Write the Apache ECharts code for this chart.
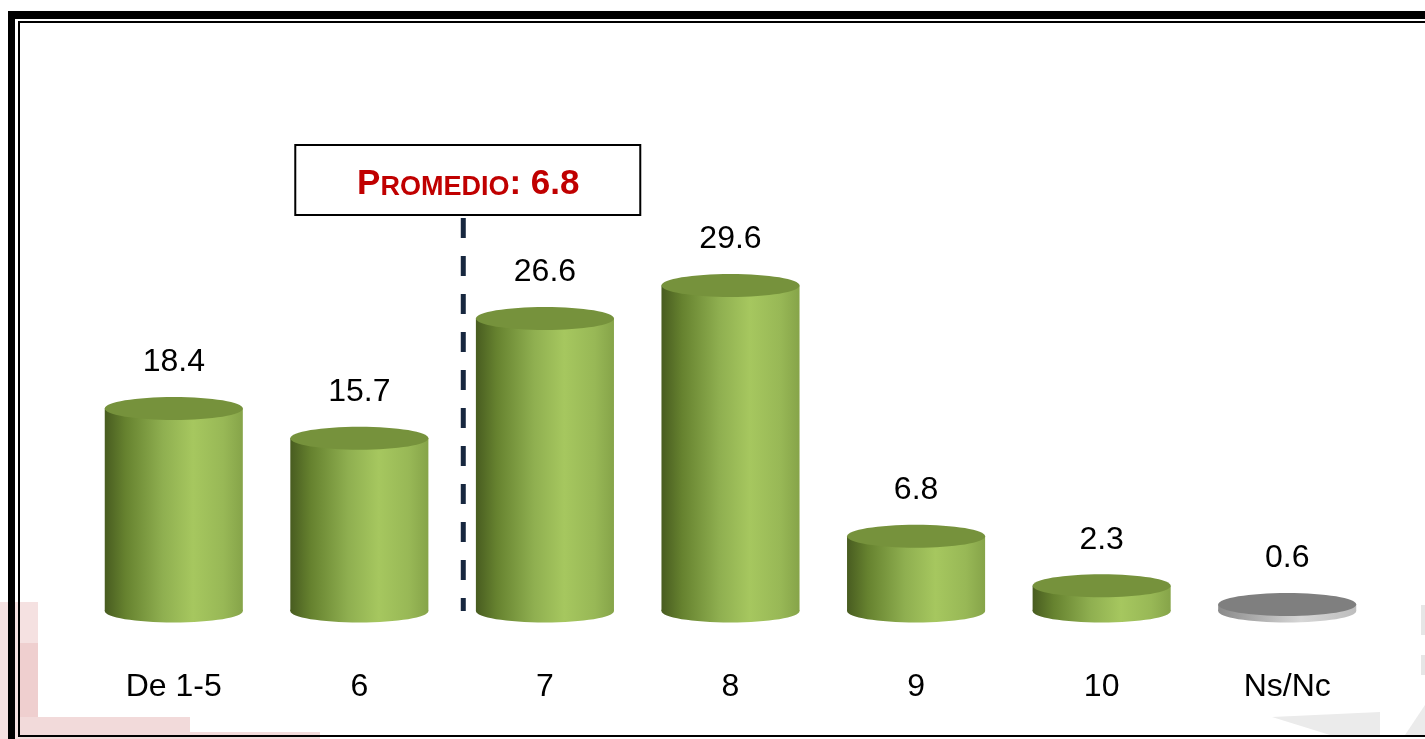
<!DOCTYPE html>
<html>
<head>
<meta charset="UTF-8">
<title>Promedio</title>
<script src="https://cdn.jsdelivr.net/npm/echarts@6/dist/echarts.min.js"></script>
<style>html,body{margin:0;padding:0;background:#fff;}</style>
</head>
<body>
<div id="main" style="width:1425px;height:739px;"></div>
<script>
// datos
var categorias = ['De 1-5', '6', '7', '8', '9', '10', 'Ns/Nc'];
var valores = [18.4, 15.7, 26.6, 29.6, 6.8, 2.3, 0.6];
var promedio = 6.8;
var posPromedio = 1.56; // la linea punteada cae entre "6" y "7"

var fuente = '"Liberation Sans", Arial, sans-serif';

var verdeLado = new echarts.graphic.LinearGradient(0, 0, 1, 0, [
    {offset: 0, color: '#485C20'},
    {offset: 0.15, color: '#66822F'},
    {offset: 0.42, color: '#8FAF50'},
    {offset: 0.64, color: '#A6C75F'},
    {offset: 0.86, color: '#98B856'},
    {offset: 1, color: '#86A449'}
]);
var grisLado = new echarts.graphic.LinearGradient(0, 0, 1, 0, [
    {offset: 0, color: '#8A8A8A'},
    {offset: 0.6, color: '#D6D6D6'},
    {offset: 1, color: '#BDBDBD'}
]);

function cilindro(params, api) {
    var i = api.value(0);
    var v = api.value(1);
    var base = api.coord([i, 0]);
    var tope = api.coord([i, v]);
    var rx = api.size([1, 0])[0] * 0.372;
    var ry = 11.5;
    var gris = categorias[i] === 'Ns/Nc';
    return {
        type: 'group',
        children: [
            {type: 'ellipse', shape: {cx: base[0], cy: base[1], rx: rx, ry: ry},
             style: {fill: gris ? grisLado : verdeLado}},
            {type: 'rect', shape: {x: base[0] - rx, y: tope[1], width: rx * 2, height: base[1] - tope[1]},
             style: {fill: gris ? grisLado : verdeLado}},
            {type: 'ellipse', shape: {cx: tope[0], cy: tope[1], rx: rx, ry: ry},
             style: {fill: gris ? '#7F7F7F' : '#76923C'}},
            {type: 'text', x: tope[0], y: tope[1] - 46,
             style: {text: v.toFixed(1), font: '32px ' + fuente, fill: '#000',
                     align: 'center', verticalAlign: 'middle'}}
        ]
    };
}

var myChart = echarts.init(document.getElementById('main'));

myChart.setOption({
    animation: false,
    backgroundColor: '#fff',
    grid: {left: 81, right: 45, top: 226, bottom: 128},
    xAxis: {
        type: 'category',
        data: categorias,
        axisLine: {show: false},
        axisTick: {show: false},
        axisLabel: {
            interval: 0,
            margin: 60,
            fontSize: 32,
            fontFamily: fuente,
            color: '#000'
        }
    },
    yAxis: {
        type: 'value',
        min: 0,
        max: 35,
        show: false
    },
    series: [{
        type: 'custom',
        renderItem: cilindro,
        encode: {x: 0, y: 1},
        data: valores.map(function (v, i) { return [i, v]; }),
        z: 5
    }]
});

// linea del promedio y recuadro, ubicados con el eje
var pA = myChart.convertToPixel({gridIndex: 0}, [Math.floor(posPromedio), 0]);
var pB = myChart.convertToPixel({gridIndex: 0}, [Math.ceil(posPromedio), 0]);
var xLinea = pA[0] + (pB[0] - pA[0]) * (posPromedio - Math.floor(posPromedio));
var yBase = pA[1];

myChart.setOption({
    graphic: [
        // adornos de fondo
        {type: 'rect', z: 0, shape: {x: 0, y: 602, width: 38, height: 137}, style: {fill: '#F5E1E1'}},
        {type: 'rect', z: 0, shape: {x: 20, y: 643, width: 18, height: 74}, style: {fill: '#EFCFCF'}},
        {type: 'rect', z: 0, shape: {x: 20, y: 717, width: 170, height: 22}, style: {fill: '#F2DADA'}},
        {type: 'rect', z: 0, shape: {x: 190, y: 732, width: 130, height: 7}, style: {fill: '#F2DADA'}},
        {type: 'polygon', z: 0, shape: {points: [[1272, 717], [1380, 712], [1380, 735], [1330, 735]]}, style: {fill: '#EBEBEB'}},
        {type: 'polygon', z: 0, shape: {points: [[1405, 735], [1425, 705], [1425, 735]]}, style: {fill: '#EBEBEB'}},
        {type: 'rect', z: 0, shape: {x: 1421, y: 605, width: 4, height: 30}, style: {fill: '#E6E6E6'}},
        {type: 'rect', z: 0, shape: {x: 1421, y: 655, width: 4, height: 20}, style: {fill: '#E6E6E6'}},
        // marco
        {type: 'rect', z: 100, shape: {x: 8, y: 11, width: 1417, height: 8}, style: {fill: '#000'}},
        {type: 'rect', z: 100, shape: {x: 8, y: 11, width: 7, height: 728}, style: {fill: '#000'}},
        {type: 'rect', z: 100, shape: {x: 18, y: 21, width: 1407, height: 2}, style: {fill: '#000'}},
        {type: 'rect', z: 100, shape: {x: 18, y: 21, width: 2, height: 716}, style: {fill: '#000'}},
        {type: 'rect', z: 100, shape: {x: 18, y: 735, width: 1407, height: 2}, style: {fill: '#000'}},
        // promedio
        {type: 'line', z: 50, shape: {x1: xLinea, y1: 218, x2: xLinea, y2: yBase},
         style: {stroke: '#17273F', lineWidth: 5, lineDash: [20, 18]}},
        {type: 'rect', z: 50, shape: {x: xLinea - 168, y: 145, width: 345, height: 70},
         style: {fill: '#fff', stroke: '#000', lineWidth: 2}},
        {type: 'text', z: 51, x: xLinea + 5, y: 184,
         style: {
             text: '{a|P}{b|ROMEDIO}{a|: ' + promedio.toFixed(1) + '}',
             align: 'center', verticalAlign: 'middle',
             rich: {
                 a: {fontSize: 35, lineHeight: 35, fontWeight: 'bold', fontFamily: fuente,
                     fill: '#C00000', color: '#C00000', verticalAlign: 'bottom'},
                 b: {fontSize: 27, lineHeight: 27, fontWeight: 'bold', fontFamily: fuente,
                     fill: '#C00000', color: '#C00000', verticalAlign: 'bottom'}
             }
         }}
    ]
});
</script>
</body>
</html>
